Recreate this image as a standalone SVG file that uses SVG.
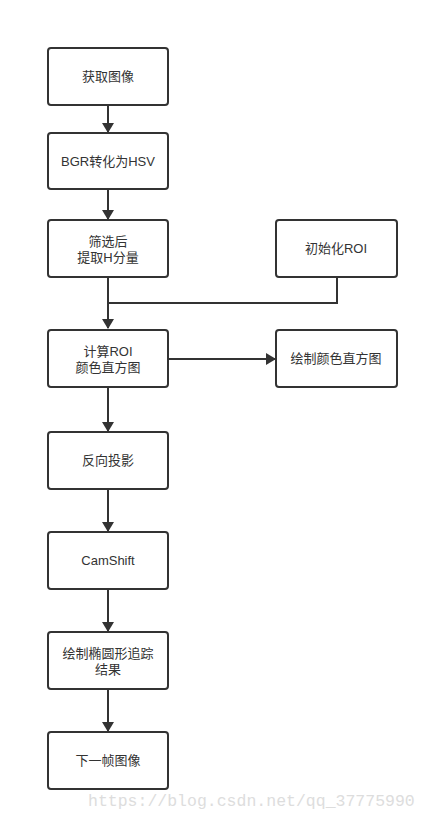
<svg xmlns="http://www.w3.org/2000/svg" width="429" height="820" viewBox="0 0 429 820">
<defs>
<marker id="ah" markerWidth="10" markerHeight="12" refX="9" refY="6" orient="auto" markerUnits="userSpaceOnUse">
<path d="M0,0 L10,6 L0,12 Z" fill="#333"/>
</marker>
<style>
.b{fill:#fff;stroke:#333;stroke-width:2}
.t{font-family:"Liberation Sans","Noto Sans CJK SC",sans-serif;font-size:13px;fill:#333;text-anchor:middle}
.c{fill:none;stroke:#333;stroke-width:2}
</style>
</defs>
<rect width="429" height="820" fill="#fff"/>
<g id="connectors">
<line class="c" x1="108" y1="105" x2="108" y2="132" marker-end="url(#ah)"/>
<line class="c" x1="108" y1="189" x2="108" y2="219" marker-end="url(#ah)"/>
<line class="c" x1="108" y1="277" x2="108" y2="328" marker-end="url(#ah)"/>
<polyline class="c" points="337,277 337,303 108,303"/>
<line class="c" x1="169" y1="359" x2="275" y2="359" marker-end="url(#ah)"/>
<line class="c" x1="108" y1="387" x2="108" y2="431" marker-end="url(#ah)"/>
<line class="c" x1="108" y1="489" x2="108" y2="531" marker-end="url(#ah)"/>
<line class="c" x1="108" y1="589" x2="108" y2="631" marker-end="url(#ah)"/>
<line class="c" x1="108" y1="689" x2="108" y2="731" marker-end="url(#ah)"/>
</g>
<g id="n1"><rect class="b" x="48" y="48" width="120" height="57" rx="3"/><text class="t" x="108" y="81">获取图像</text></g>
<g id="n2"><rect class="b" x="48" y="133" width="120" height="56" rx="3"/><text class="t" x="108" y="166">BGR转化为HSV</text></g>
<g id="n3"><rect class="b" x="48" y="220" width="120" height="57" rx="3"/><text class="t" x="108" y="246"><tspan x="108">筛选后</tspan><tspan x="108" dy="16">提取H分量</tspan></text></g>
<g id="n4"><rect class="b" x="276" y="220" width="121" height="57" rx="3"/><text class="t" x="336" y="253">初始化ROI</text></g>
<g id="n5"><rect class="b" x="48" y="330" width="120" height="57" rx="3"/><text class="t" x="108" y="356"><tspan x="108">计算ROI</tspan><tspan x="108" dy="16">颜色直方图</tspan></text></g>
<g id="n6"><rect class="b" x="276" y="330" width="121" height="57" rx="3"/><text class="t" x="336" y="363">绘制颜色直方图</text></g>
<g id="n7"><rect class="b" x="48" y="432" width="120" height="57" rx="3"/><text class="t" x="108" y="465">反向投影</text></g>
<g id="n8"><rect class="b" x="48" y="532" width="120" height="57" rx="3"/><text class="t" x="108" y="565">CamShift</text></g>
<g id="n9"><rect class="b" x="48" y="632" width="120" height="57" rx="3"/><text class="t" x="108" y="658"><tspan x="108">绘制椭圆形追踪</tspan><tspan x="108" dy="16">结果</tspan></text></g>
<g id="n10"><rect class="b" x="48" y="732" width="120" height="57" rx="3"/><text class="t" x="108" y="765">下一帧图像</text></g>
<text x="88" y="806" font-family="Liberation Mono, monospace" font-size="16.5" fill="#ddd">https://blog.csdn.net/qq_37775990</text>
</svg>
